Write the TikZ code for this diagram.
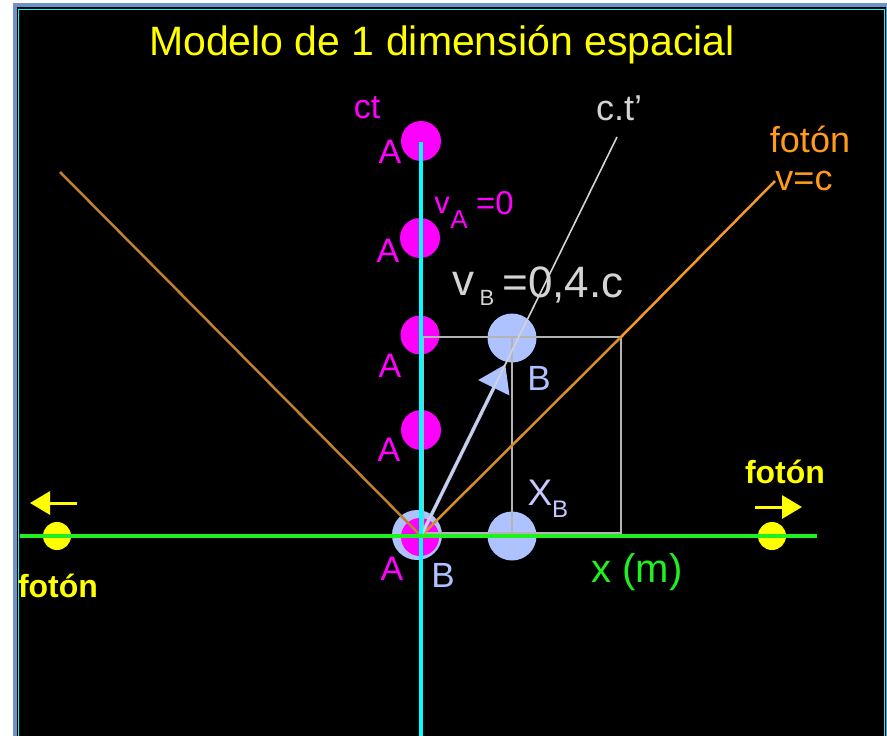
\documentclass[tikz,border=0pt]{standalone}
\usepackage{fontspec}
\setmainfont{Liberation Sans}
\usetikzlibrary{arrows.meta,calc}
\definecolor{mag}{HTML}{FF00FF}
\definecolor{cyn}{HTML}{00FFFF}
\definecolor{grn}{HTML}{20F020}
\definecolor{yel}{HTML}{FFFF00}
\definecolor{lblue}{HTML}{AEC2FF}
\definecolor{lav}{HTML}{C8C8FF}
\definecolor{ltgray}{HTML}{D4D4D4}
\definecolor{rectgray}{HTML}{B4B4B4}
\definecolor{orgtext}{HTML}{FF9A1A}
\definecolor{orgdark}{HTML}{C08030}
\definecolor{orgmid}{HTML}{D88C2C}
\definecolor{orgbright}{HTML}{F59A24}
\definecolor{frameblue}{HTML}{7090C8}
\newcommand\fsz[1]{\fontsize{#1}{#1}\selectfont}
\begin{document}
\begin{tikzpicture}[x=1pt,y=-1pt,
  lbl/.style={inner sep=0pt, anchor=base},
  ball/.style={circle, inner sep=0pt, minimum size=#1},
  axisline/.style={line width=3.5pt},
  photonline/.style={line width=2.5pt},
  yarrow/.style={yel, line width=3pt, -{Triangle[length=20pt,width=23pt]}}]
\useasboundingbox (0,0) rectangle (887,736);
\fill[white] (0,0) rectangle (887,736);
\fill[frameblue] (13,3.3) rectangle (887,736);
\fill[black] (17.3,7.3) rectangle (885.7,736);
\draw[cyn, line width=1pt] (18.5,740) -- (18.5,9.5) -- (884,9.5) -- (884,740);

% coordinates
\coordinate (O) at (421,536);
\coordinate (ctTop) at (421,142);
\coordinate (ctBot) at (421,736);
\coordinate (xL) at (20,536);
\coordinate (xR) at (817,536);
\coordinate (fL) at (60,172);
\coordinate (fM) at (621,337);
\coordinate (fR) at (775,181);
\coordinate (ctp) at (617,137);
\coordinate (R1) at (423,337);
\coordinate (R2) at (621,533);
\coordinate (R3) at (512,533);
\coordinate (aL1) at (77,503);
\coordinate (aL2) at (30,503);
\coordinate (aR1) at (755,507);
\coordinate (aR2) at (802,507);

% balls
\node[ball=40, fill=mag] (A1) at (421,141) {};
\node[ball=40, fill=mag] (A2) at (420,238) {};
\node[ball=39, fill=mag] (A3) at (420,335) {};
\node[ball=40, fill=mag] (A4) at (421,430) {};
\node[ball=50, fill=lblue] (B0) at (417,535) {};
\node[ball=38, fill=mag] (A0) at (420,537) {};
\node[ball=49, fill=lblue] (B1) at (512,338) {};
\node[ball=49, fill=lblue] (B2) at (512,536) {};
\node[ball=28, fill=yel] (P1) at (57,536) {};
\node[ball=28, fill=yel] (P2) at (772,536) {};

% rectangle
\draw[rectgray, line width=1.6pt] (R1) rectangle (R2);
\draw[rectgray, line width=1.2pt] (B1.center) -- (R3);

% photon world lines
\draw[orgdark, photonline] (O) -- (fL);
\draw[orgmid, photonline] (O) -- (fM);
\draw[orgbright, photonline] (fM) -- (fR);

% B world line
\draw[lblue, line width=3.5pt, -{Triangle[length=26pt,width=34pt]}] (O) -- ($(O)!0.43!(ctp)$);
\draw[ltgray, line width=1.6pt] (O) -- (ctp);

% axes
\draw[cyn, axisline] (ctTop) -- (ctBot);
\draw[grn, axisline] (xL) -- (xR);

% photon arrows
\draw[yarrow] (aL1) -- (aL2);
\draw[yarrow] (aR1) -- (aR2);

% texts
\node[lbl, yel, font=\fsz{41}] (title) at (442,55) {Modelo de 1 dimensión espacial};
\node[lbl, mag, font=\fsz{34}] (ct) at (367,118) {ct};
\node[lbl, ltgray, font=\fsz{36}] (ctpl) at (619,120) {c.t’};
\node[lbl, orgtext, font=\fsz{36}] (fo1) at (810,152) {fotón};
\node[lbl, orgtext, font=\fsz{36}] (vc) at (804,190) {v=c};
\node[lbl, mag, font=\fsz{31}] (vA) at (442,213) {v};
\node[lbl, mag, font=\fsz{26}] (vAs) at (459,228) {A};
\node[lbl, mag, font=\fsz{33}] (vA0) at (495,214) {=0};
\node[lbl, ltgray, font=\fsz{44}] (vB) at (463,295) {v};
\node[lbl, ltgray, font=\fsz{22}] (vBs) at (487,305) {B};
\node[lbl, ltgray, font=\fsz{44}] (vB0) at (563,297) {=0,4.c};
\node[lbl, mag, font=\fsz{34}] (la1) at (390,163) {A};
\node[lbl, mag, font=\fsz{34}] (la2) at (388,262) {A};
\node[lbl, mag, font=\fsz{34}] (la3) at (390,377) {A};
\node[lbl, mag, font=\fsz{34}] (la4) at (389,461) {A};
\node[lbl, mag, font=\fsz{34}] (la0) at (392,580) {A};
\node[lbl, lblue, font=\fsz{35}] (lb1) at (539,390) {B};
\node[lbl, lblue, font=\fsz{35}] (lb0) at (443,587) {B};
\node[lbl, lav, font=\fsz{37}] (XB) at (540,505) {X};
\node[lbl, lav, font=\fsz{24}] (XBs) at (560,517) {B};
\node[lbl, grn, font=\fsz{40}] (xm) at (637,582) {x (m)};
\node[lbl, yel, font=\bfseries\fsz{32}] (fo2) at (58,597) {fotón};
\node[lbl, yel, font=\bfseries\fsz{32}] (fo3) at (785,483) {fotón};
\end{tikzpicture}
\end{document}
